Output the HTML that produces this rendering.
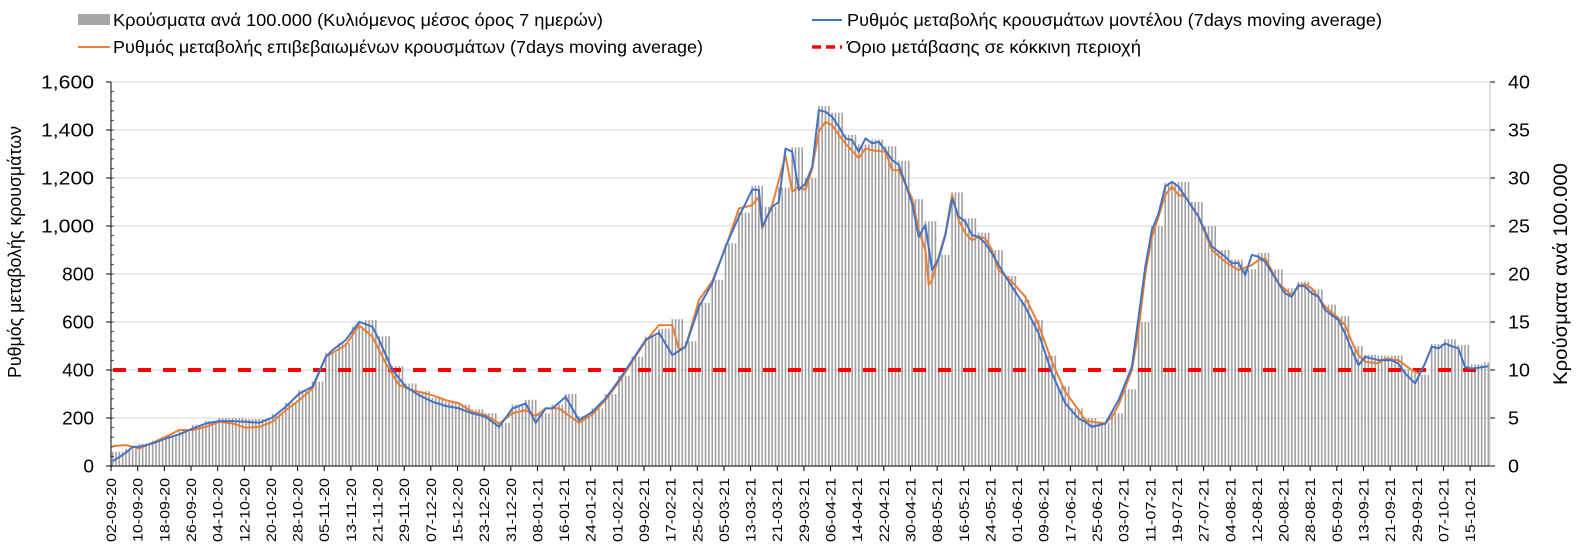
<!DOCTYPE html>
<html><head><meta charset="utf-8"><style>
body{margin:0;background:#fff;font-family:"Liberation Sans",sans-serif;}
svg{display:block}
</style></head><body>
<svg id="chart" width="1576" height="559" xmlns="http://www.w3.org/2000/svg" font-family="Liberation Sans, sans-serif">
<g>
 <g><rect x="78" y="14" width="32" height="11" fill="#a6a6a6"/><text x="113" y="26" font-size="17.5" textLength="490" lengthAdjust="spacingAndGlyphs">Κρούσματα ανά 100.000 (Κυλιόμενος μέσος όρος 7 ημερών)</text></g>
 <g><line x1="812" y1="20" x2="842" y2="20" stroke="#4472c4" stroke-width="2"/><text x="847" y="26" font-size="17.5" textLength="535" lengthAdjust="spacingAndGlyphs">Ρυθμός μεταβολής κρουσμάτων μοντέλου (7days moving average)</text></g>
 <g><line x1="78" y1="47" x2="110" y2="47" stroke="#ed7d31" stroke-width="2"/><text x="113" y="53" font-size="17.5" textLength="590" lengthAdjust="spacingAndGlyphs">Ρυθμός μεταβολής επιβεβαιωμένων κρουσμάτων (7days moving average)</text></g>
 <g><line x1="812" y1="47" x2="842" y2="47" stroke="#ff0000" stroke-width="3.5" stroke-dasharray="9,5"/><text x="847" y="53" font-size="17.5" textLength="294" lengthAdjust="spacingAndGlyphs">Όριο μετάβασης σε κόκκινη περιοχή</text></g>
</g>
<text transform="translate(21,252) rotate(-90)" text-anchor="middle" font-size="18" textLength="252" lengthAdjust="spacingAndGlyphs">Ρυθμός μεταβολής κρουσμάτων</text>
<text transform="translate(1567,274) rotate(-90)" text-anchor="middle" font-size="19" textLength="222" lengthAdjust="spacingAndGlyphs">Κρούσματα ανά 100.000</text>
<g id="grid"></g>
<g id="bars"></g>
<g id="lines"></g>
<g id="axes"></g>
</svg>
<script>
const tickLabels=["02-09-20","10-09-20","18-09-20","26-09-20","04-10-20","12-10-20","20-10-20","28-10-20","05-11-20","13-11-20","21-11-20","29-11-20","07-12-20","15-12-20","23-12-20","31-12-20","08-01-21","16-01-21","24-01-21","01-02-21","09-02-21","17-02-21","25-02-21","05-03-21","13-03-21","21-03-21","29-03-21","06-04-21","14-04-21","22-04-21","30-04-21","08-05-21","16-05-21","24-05-21","01-06-21","09-06-21","17-06-21","25-06-21","03-07-21","11-07-21","19-07-21","27-07-21","04-08-21","12-08-21","20-08-21","28-08-21","05-09-21","13-09-21","21-09-21","29-09-21","07-10-21","15-10-21"];
const leftTicks=[0,200,400,600,800,1000,1200,1400,1600];
const rightTicks=[0,5,10,15,20,25,30,35,40];
const blueDays=[0,4,6,8,12,16,20,24,28,32,36,40,44,48,52,56,60,64,66,70,74,78,80,84,88,92,96,100,104,108,112,116,120,124,127,130,132,136,140,144,148,152,156,160,164,168,172,176,180,184,188,190,192,194,195,198,200,202,204,206,208,210,212,214,216,218,220,222,224,226,228,230,232,234,236,238,240,242,244,246,248,250,252,254,256,258,260,262,264,266,270,274,278,282,286,290,292,294,298,302,306,310,312,314,316,318,320,322,326,330,334,336,338,340,342,344,346,350,352,354,356,358,360,362,364,368,370,372,374,376,380,384,386,388,391,394,396,398,400,402,404,406,408,413];
const blueVals=[20,55,80,80,94,115,132,156,177,187,187,184,180,202,247,302,330,455,483,525,601,580,525,400,330,295,268,250,240,219,205,163,240,261,180,240,240,288,191,226,282,358,441,525,555,462,497,663,761,914,1039,1094,1152,1150,997,1080,1100,1323,1309,1150,1177,1247,1483,1476,1455,1414,1365,1358,1309,1365,1344,1351,1316,1275,1254,1177,1094,955,1004,816,865,962,1115,1039,1018,962,955,927,886,837,747,663,552,386,261,198,184,163,177,275,413,830,983,1052,1164,1184,1164,1122,1039,914,872,844,847,795,879,872,851,761,719,705,754,747,719,705,650,608,552,483,420,455,441,441,427,386,344,427,497,490,511,499,490,413,406,416];
const orangeDays=[0,4,8,16,20,24,28,32,36,40,44,48,52,56,60,64,70,74,78,82,86,90,96,100,104,108,112,116,120,124,127,130,134,140,144,148,152,156,160,164,168,170,172,176,180,184,188,192,194,195,198,202,204,206,208,210,212,214,216,218,220,224,226,228,232,234,236,240,242,244,245,246,248,250,252,254,256,258,260,262,264,266,270,274,278,282,286,290,292,294,298,300,302,306,308,310,312,314,316,318,320,322,326,330,334,338,342,344,346,350,354,356,358,360,364,368,370,372,374,376,380,382,386,390,392,393];
const orangeVals=[83,87,73,122,150,150,163,184,177,159,163,184,233,274,323,455,504,587,538,427,337,316,295,274,261,226,212,177,219,233,208,240,240,180,215,275,350,435,520,587,587,486,497,691,770,910,1073,1087,1122,990,1087,1295,1143,1164,1150,1240,1393,1434,1420,1379,1344,1282,1323,1316,1309,1233,1233,1115,983,900,754,775,872,969,1129,1025,969,941,955,948,900,816,768,705,587,434,309,233,191,184,177,205,254,400,566,802,955,1039,1129,1164,1129,1122,1039,900,851,816,837,858,865,761,712,747,758,740,664,615,587,518,462,434,427,448,441,400,386,400];
const barDays=[0,4,8,12,16,20,24,28,32,36,40,44,48,52,56,60,64,68,72,76,80,84,88,92,96,100,104,108,112,116,120,124,128,132,136,140,144,148,152,156,160,164,168,172,176,180,184,188,192,196,200,204,208,212,216,220,224,228,232,236,240,244,248,252,256,260,264,268,272,276,280,284,288,292,296,300,304,308,312,316,320,324,328,332,336,340,344,348,352,356,360,364,368,372,376,380,384,388,392,396,400,404,408,412];
const barVals=[1.5,1.8,2.3,2.6,3.2,3.6,4.3,4.7,5,5,4.9,4.9,5.4,6.6,7.9,8.8,11.8,12.8,14.5,15.2,13.5,10.4,8.6,7.8,7.1,6.7,6.4,5.9,5.5,4.5,6.4,6.9,5.5,6.4,7.5,5.2,6,7.5,9.4,11.4,13.5,14.3,15.3,13,17,19.4,23.2,26.4,29.2,27,29,33.2,30,37.5,36.8,34.5,33.5,34,33.3,31.8,27.8,25.5,22,28.5,25.8,24.3,22.5,19.8,17.3,15.2,11.5,8.3,6,5,4.5,5.5,8,15,25,29.5,29.6,27.5,25,22.5,21.5,20.5,22.2,20.5,18.5,19.2,18.4,16.8,15.6,12.5,11.6,11.5,11.5,10.1,9.5,12.7,13.2,12.6,10.6,10.8];
const thresholdVal=400;
const NDAYS=414;
const X0=111,X1=1490,Y0=466,Y1=82;
const NS="http://www.w3.org/2000/svg";
function x(d){return X0+(d+0.5)*(X1-X0)/NDAYS;}
function yL(v){return Y0-v*(Y0-Y1)/1600;}
function yR(v){return Y0-v*(Y0-Y1)/40;}
function mk(tag,attrs,parent){const e=document.createElementNS(NS,tag);for(const k in attrs)e.setAttribute(k,attrs[k]);parent.appendChild(e);return e;}
const grid=document.getElementById('grid'),bars=document.getElementById('bars'),lines=document.getElementById('lines'),axes=document.getElementById('axes');
leftTicks.forEach(v=>{if(v>0){const g=mk('line',{x1:X0,x2:X1,y1:yL(v),y2:yL(v),stroke:'#d9d9d9','stroke-width':1},grid);

}
const s=v.toLocaleString('en-US');
const t=mk('text',{x:94,y:yL(v)+6.5,'text-anchor':'end','font-size':18,textLength:s.length*10.6,lengthAdjust:'spacingAndGlyphs'},axes);t.textContent=s;


mk('line',{x1:X0-5,x2:X0,y1:yL(v),y2:yL(v),stroke:'#000'},axes);});
for(let v=0;v<1600;v+=40){mk('line',{x1:X0,x2:X0+3,y1:yL(v),y2:yL(v),stroke:'#444'},axes);}
rightTicks.forEach(v=>{const s=String(v);const t=mk('text',{x:1508,y:yR(v)+6.5,'font-size':18,textLength:s.length*11,lengthAdjust:'spacingAndGlyphs'},axes);t.textContent=s;


mk('line',{x1:X1,x2:X1+5,y1:yR(v),y2:yR(v),stroke:'#000'},axes);});
for(let d=0;d<NDAYS;d++){let i=0;while(i+1<barDays.length&&barDays[i+1]<=d)i++;
const v=barVals[i];const b=mk('rect',{x:x(d)-0.8,y:yR(v),width:1.6,height:Y0-yR(v),fill:'#a0a0a0'},bars);

}
const th=mk('line',{x1:X0+2,x2:1482,y1:yL(thresholdVal),y2:yL(thresholdVal),stroke:'#ff0000','stroke-width':4,'stroke-dasharray':'13,12'},lines);


function path(days,vals,color,name){const dstr=days.map((d,i)=>(i?'L':'M')+x(d).toFixed(1)+','+yL(vals[i]).toFixed(1)).join('');
const p=mk('path',{d:dstr,fill:'none',stroke:color,'stroke-width':2,'stroke-linejoin':'round'},lines);

}
path(orangeDays,orangeVals,'#ed7d31','line-confirmed');
path(blueDays,blueVals,'#4472c4','line-model');
mk('line',{x1:X0,x2:X0,y1:Y1,y2:Y0,stroke:'#000'},axes);
mk('line',{x1:X1,x2:X1,y1:Y1,y2:Y0,stroke:'#bfbfbf'},axes);
mk('line',{x1:X0,x2:X1,y1:Y0,y2:Y0,stroke:'#000'},axes);
tickLabels.forEach((lab,i)=>{const d=i*8;const tx=x(d)-1.6;
mk('line',{x1:tx,x2:tx,y1:Y0,y2:Y0+5,stroke:'#000'},axes);
const t=mk('text',{transform:`translate(${(tx+5).toFixed(1)},478) rotate(-90)`,'text-anchor':'end','font-size':14,textLength:64,lengthAdjust:'spacingAndGlyphs'},axes);
t.textContent=lab;

});
</script>
</body></html>
